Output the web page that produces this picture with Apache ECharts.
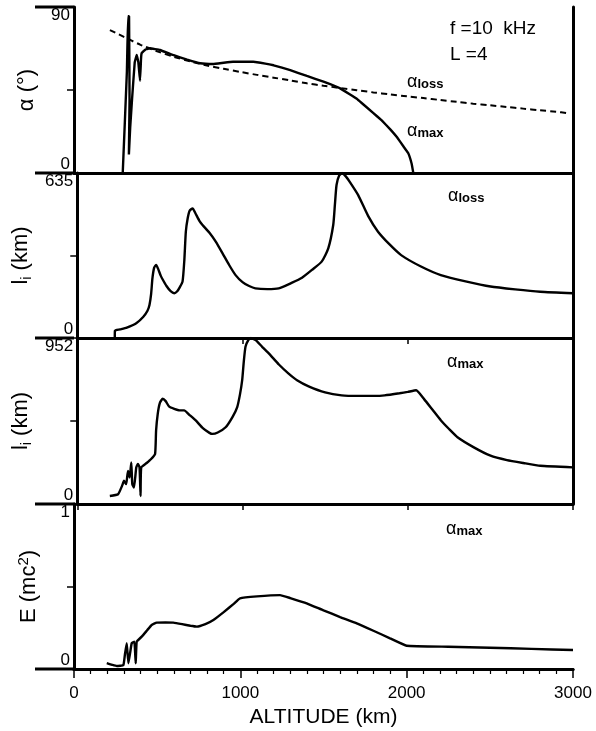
<!DOCTYPE html>
<html>
<head>
<meta charset="utf-8">
<script src="https://cdn.jsdelivr.net/npm/echarts@6/dist/echarts.min.js"></script>
<style>
html, body { margin: 0; padding: 0; background: #fff; }
#chart { width: 596px; height: 731px; }
</style>
</head>
<body>
<div id="chart"></div>
<script>
// Altitude range (km) and its tick spacing
const altitudeMin = 0;
const altitudeMax = 3000;
const altitudeStep = 1000;

// Upper limits of the four vertical scales (lower limit is 0)
const panelMax = [90, 635, 952, 1];

// Loss-cone pitch angle, degrees  [altitude km, alpha]
const alphaLoss = [
  [216, 77.5], [300, 73.8], [400, 69.5], [500, 66.0], [600, 63.0], [700, 60.5],
  [800, 58.3], [900, 56.5], [1000, 54.8], [1100, 53.2], [1200, 51.7], [1300, 50.2],
  [1400, 48.6], [1500, 47.3], [1600, 46.1], [1700, 44.9], [1800, 43.7], [1900, 42.6],
  [2000, 41.6], [2100, 40.6], [2200, 39.6], [2300, 38.6], [2400, 37.6], [2500, 36.7],
  [2600, 35.8], [2700, 34.9], [2800, 34.0], [2900, 33.2], [2965, 32.5]
];

// Maximum resonant pitch angle, degrees  [altitude km, alpha]
const alphaMax = [
  [293, 0], [318, 55], [325, 85], [331, 85], [334, 40], [330, 10], [338, 25],
  [349, 40], [365, 60], [377, 64], [387, 60], [397, 50], [403, 62], [407, 65],
  [430, 67], [457, 67.6], [517, 66.7], [595, 64], [680, 61.5], [758, 59.5],
  [836, 59.1], [900, 59.8], [956, 60.3], [1078, 60.3], [1150, 59.3], [1200, 58.4],
  [1300, 55.8], [1400, 52.6], [1500, 49.5], [1600, 45.9], [1700, 40.3], [1800, 32.5],
  [1850, 28.5], [1900, 23.8], [1941, 19.5], [1980, 14.5], [2009, 10.8], [2030, 5],
  [2040, 0]
];

// Interaction length at the loss-cone angle, km  [altitude km, l_i]
const lengthLoss = [
  [227, 0], [228, 28], [260, 33], [300, 40], [357, 57], [400, 82], [425, 105],
  [437, 127], [447, 170], [455, 230], [465, 270], [477, 281], [490, 265], [505, 240],
  [517, 225], [540, 200], [565, 180], [587, 172], [605, 180], [620, 195], [637, 217],
  [648, 300], [657, 409], [668, 460], [680, 490], [698, 499], [715, 480], [740, 450],
  [758, 435], [800, 405], [838, 371], [880, 325], [920, 280], [958, 242], [1000, 215],
  [1040, 200], [1078, 191], [1150, 188], [1219, 191], [1300, 213], [1360, 232],
  [1420, 262], [1479, 294], [1519, 345], [1549, 435], [1559, 512], [1569, 589],
  [1585, 625], [1603, 635], [1625, 622], [1650, 600], [1700, 550], [1760, 470],
  [1820, 409], [1890, 360], [1960, 319], [2080, 275], [2200, 242], [2350, 218],
  [2501, 198], [2650, 187], [2802, 178], [3000, 172]
];

// Interaction length at the maximum angle, km  [altitude km, l_i]
const lengthMax = [
  [197, 46], [247, 56], [271, 104], [283, 133], [296, 114], [307, 190], [317, 152],
  [327, 238], [333, 114], [343, 94], [357, 209], [367, 229], [377, 209], [383, 46],
  [387, 209], [420, 235], [447, 258], [471, 287], [477, 421], [487, 517], [500, 580],
  [517, 604], [535, 590], [555, 560], [587, 546], [620, 537], [647, 537], [680, 510],
  [717, 479], [760, 435], [800, 408], [818, 402], [850, 410], [898, 440], [940, 500],
  [968, 556], [985, 630], [998, 710], [1008, 820], [1018, 902], [1035, 940],
  [1050, 952], [1080, 940], [1120, 900], [1159, 864], [1220, 800], [1279, 748],
  [1330, 710], [1400, 675], [1500, 640], [1600, 623], [1700, 620], [1800, 620],
  [1860, 623], [1950, 635], [2000, 643], [2051, 652], [2100, 600], [2150, 540],
  [2201, 479], [2250, 430], [2301, 383], [2400, 325], [2501, 277], [2600, 252],
  [2700, 235], [2802, 219], [3000, 210]
];

// Energy at the maximum angle, mc^2  [altitude km, E]
const energyMax = [
  [197, 0.035], [230, 0.025], [257, 0.018], [297, 0.024], [307, 0.095], [317, 0.156],
  [327, 0.035], [337, 0.095], [347, 0.156], [363, 0.166], [371, 0.035], [377, 0.166],
  [407, 0.196], [440, 0.235], [467, 0.267], [497, 0.281], [550, 0.282], [597, 0.281],
  [650, 0.272], [700, 0.262], [738, 0.257], [790, 0.272], [838, 0.297], [900, 0.345],
  [960, 0.395], [998, 0.428], [1100, 0.44], [1239, 0.448], [1300, 0.43], [1399, 0.398],
  [1500, 0.355], [1600, 0.315], [1700, 0.277], [1800, 0.232], [1900, 0.186],
  [2000, 0.141], [2250, 0.135], [2501, 0.129], [2750, 0.122], [3000, 0.115]
];

// ---- layout and styling ----
const INK = '#000';
const FONT = '"Liberation Sans", Arial, Helvetica, sans-serif';
const LEFT = 74, RIGHT = 23;
const panelTop = [7, 173, 338, 504];
const panelHeight = [166, 165, 166, 165];
const FRAME_W = 3;

const nameRich = {
  b: { fontFamily: FONT, fontSize: 22, color: INK, lineHeight: 24, verticalAlign: 'top' },
  bb: { fontFamily: FONT, fontSize: 22, color: INK, lineHeight: 24, verticalAlign: 'bottom' },
  sub: { fontFamily: FONT, fontSize: 14, color: INK, lineHeight: 14, verticalAlign: 'bottom', padding: [12, 0, 0, 0] },
  sup: { fontFamily: FONT, fontSize: 15, color: INK, lineHeight: 15, verticalAlign: 'top', padding: [0, 0, 12, 0] }
};
const axisNames = [
  '{b|α (°)}',
  '{b|l}{sub|i}{b| (km)}',
  '{b|l}{sub|i}{b| (km)}',
  '{bb|E (mc}{sup|2}{bb|)}'
];

const grids = panelTop.map((t, i) => ({ left: LEFT, right: RIGHT, top: t, height: panelHeight[i] }));

const xAxes = panelTop.map((t, i) => ({
  gridIndex: i, type: 'value', position: 'top',
  min: altitudeMin, max: altitudeMax, interval: altitudeStep,
  axisLine: { show: true, lineStyle: { color: INK, width: FRAME_W } },
  axisTick: { show: i > 0, inside: true, length: 6, lineStyle: { color: INK, width: 1.5 } },
  axisLabel: { show: false },
  splitLine: { show: false }
}));
xAxes.push({
  gridIndex: 3, type: 'value', position: 'bottom',
  min: altitudeMin, max: altitudeMax, interval: altitudeStep,
  axisLine: { show: true, lineStyle: { color: INK, width: FRAME_W } },
  axisTick: { show: true, length: 9, lineStyle: { color: INK, width: 1.5 } },
  minorTick: { show: true, splitNumber: 10, length: 5, lineStyle: { color: INK, width: 1.2 } },
  axisLabel: { margin: 16, fontSize: 17, color: INK, fontFamily: FONT, formatter: v => String(v) },
  splitLine: { show: false },
  minorSplitLine: { show: false },
  name: 'ALTITUDE (km)', nameLocation: 'middle', nameGap: 38,
  nameTextStyle: { fontSize: 21, color: INK, fontFamily: FONT }
});

const yAxes = panelMax.map((m, i) => ({
  gridIndex: i, type: 'value', position: 'left',
  min: 0, max: m, interval: m / 2,
  axisLine: { show: true, lineStyle: { color: INK, width: FRAME_W } },
  axisTick: { show: true, length: 7, lineStyle: { color: INK, width: 1.5 } },
  axisLabel: {
    margin: 4, fontSize: 17, color: INK, fontFamily: FONT,
    formatter: v => (v === 0 || v === m) ? String(v) : '',
    verticalAlignMinLabel: 'bottom', verticalAlignMaxLabel: 'top'
  },
  splitLine: { show: false },
  name: axisNames[i], nameLocation: 'middle', nameGap: 34, nameRotate: 90,
  nameTextStyle: { rich: nameRich }
}));
panelMax.forEach((m, i) => yAxes.push({
  gridIndex: i, type: 'value', position: 'right',
  min: 0, max: m, interval: m / 2,
  axisLine: { show: true, lineStyle: { color: INK, width: FRAME_W } },
  axisTick: { show: false }, axisLabel: { show: false }, splitLine: { show: false }
}));

function curve(data, panel, extra) {
  return Object.assign({
    type: 'line', data: data, xAxisIndex: panel, yAxisIndex: panel,
    showSymbol: false, symbol: 'none', smooth: 0.2, silent: true,
    lineStyle: { color: INK, width: 2.4 }
  }, extra || {});
}

// Frame lines continuing left of the axis at every panel boundary
const boundaries = panelTop.concat([panelTop[3] + panelHeight[3]]);
const frameLines = boundaries.map(y => ({
  type: 'line', shape: { x1: 35, y1: y, x2: LEFT, y2: y },
  style: { stroke: INK, lineWidth: FRAME_W }
}));

const tagRich = {
  a: { fontFamily: FONT, fontSize: 18, lineHeight: 18, verticalAlign: 'top', fill: INK },
  s: { fontFamily: FONT, fontSize: 13, fontWeight: 'bold', lineHeight: 13, verticalAlign: 'bottom', padding: [10, 0, 0, 0], fill: INK }
};
function tag(sub, x, y) {
  return {
    type: 'text', x: x, y: y,
    style: { text: '{a|α}{s|' + sub + '}', rich: tagRich, verticalAlign: 'top', align: 'left' }
  };
}
const plainText = (t, x, y) => ({
  type: 'text', x: x, y: y,
  style: { text: t, fontFamily: FONT, fontSize: 19, fill: INK, verticalAlign: 'middle', align: 'left' }
});

const option = {
  backgroundColor: '#fff',
  animation: false,
  grid: grids,
  xAxis: xAxes,
  yAxis: yAxes,
  series: [
    curve(alphaLoss, 0, { lineStyle: { color: INK, width: 2, type: [6, 4] }, smooth: 0.3 }),
    curve(alphaMax, 0, { smooth: 0.05 }),
    curve(lengthLoss, 1),
    curve(lengthMax, 2, { smooth: 0.15 }),
    curve(energyMax, 3, { smooth: 0.1 })
  ],
  graphic: frameLines.concat([
    plainText('f =10  kHz', 450, 29),
    plainText('L =4', 450, 55),
    tag('loss', 407, 73),
    tag('max', 407, 122),
    tag('loss', 448, 187),
    tag('max', 447, 353),
    tag('max', 446, 520)
  ])
};

const chart = echarts.init(document.getElementById('chart'), null, { renderer: 'canvas' });
chart.setOption(option);
</script>
</body>
</html>
